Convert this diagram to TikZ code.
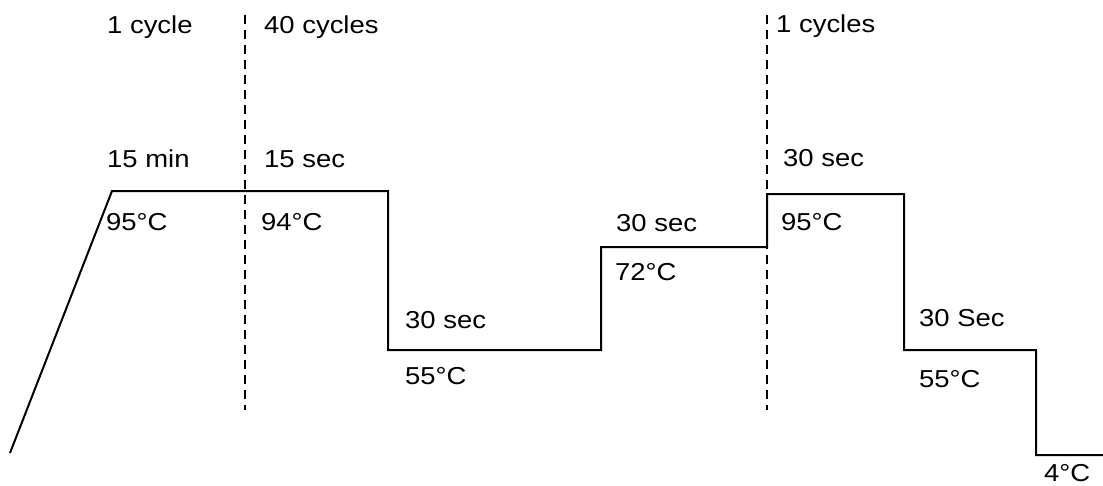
\documentclass[tikz,border=0pt]{standalone}
\usepackage{fontspec}
\setmainfont{Liberation Sans}
\begin{document}
\begin{tikzpicture}[x=1pt,y=-1pt,
  lbl/.style={anchor=base west,inner sep=0pt,font=\fontsize{24.5}{28}\selectfont},
  profile/.style={line width=2pt,line join=miter},
  divider/.style={line width=1.8pt,dash pattern=on 9pt off 6pt}]
\useasboundingbox (0,0) rectangle (1103,485);
% profile points
\coordinate (p0) at (10,453);
\coordinate (p1) at (112,191);
\coordinate (p2) at (388,191);
\coordinate (p3) at (388,350);
\coordinate (p4) at (601,350);
\coordinate (p5) at (601,247);
\coordinate (p6) at (767,247);
\coordinate (p7) at (767,194);
\coordinate (p8) at (904,194);
\coordinate (p9) at (904,350);
\coordinate (p10) at (1036,350);
\coordinate (p11) at (1036,455);
\coordinate (p12) at (1103,455);
\draw[profile] (p0) -- (p1) -- (p2) -- (p3) -- (p4) -- (p5) -- (p6) -- (p7) -- (p8) -- (p9) -- (p10) -- (p11) -- (p12);
% dividers
\coordinate (d1t) at (245,15);
\coordinate (d1b) at (245,410);
\coordinate (d2t) at (767,15);
\coordinate (d2b) at (767,410);
\draw[divider] (d1t) -- (d1b);
\draw[divider] (d2t) -- (d2b);
% labels
\newcommand{\sx}[1]{\scalebox{1.12}[1]{#1}}
\node[lbl] (c1) at (107,33) {\sx{1 cycle}};
\node[lbl] (c40) at (264,33) {\sx{40 cycles}};
\node[lbl] (c1b) at (776,32) {\sx{1 cycles}};
\node[lbl] (t1) at (107,167) {\sx{15 min}};
\node[lbl] (t2) at (264,167) {\sx{15 sec}};
\node[lbl] (t3) at (405,328) {\sx{30 sec}};
\node[lbl] (t4) at (616,231) {\sx{30 sec}};
\node[lbl] (t5) at (783,166) {\sx{30 sec}};
\node[lbl] (t6) at (919,326) {\sx{30 Sec}};
\node[lbl] (T1) at (106,230) {\sx{95°C}};
\node[lbl] (T2) at (261,230) {\sx{94°C}};
\node[lbl] (T3) at (405,384) {\sx{55°C}};
\node[lbl] (T4) at (615,280) {\sx{72°C}};
\node[lbl] (T5) at (781,230) {\sx{95°C}};
\node[lbl] (T6) at (919,387) {\sx{55°C}};
\node[lbl] (T7) at (1044,481) {\sx{4°C}};
\end{tikzpicture}
\end{document}
